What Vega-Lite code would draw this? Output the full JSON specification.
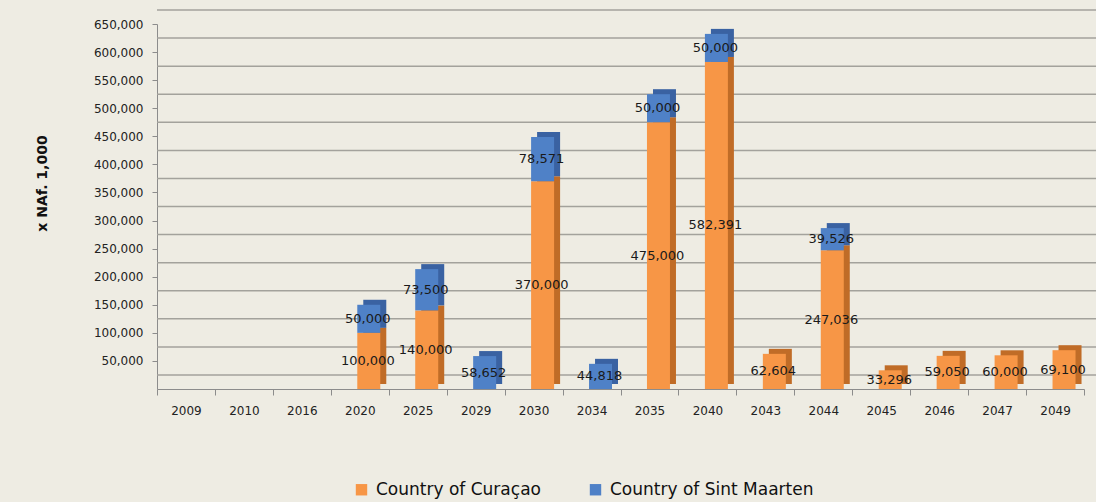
{
  "$schema": "https://vega.github.io/schema/vega-lite/v6.json",
  "autosize": {"type": "none"},
  "width": 927,
  "height": 365,
  "padding": {"left": 157, "top": 24, "right": 12, "bottom": 113},
  "background": "#EEECE3",
  "config": {
    "view": {"stroke": null},
    "font": "DejaVu Sans",
    "axisY": {"format": ",d", "labelOverlap": false, "grid": false}
  },
  "data": {
    "values": [
      {"year": "2020", "country": "Country of Curaçao", "value": 100000},
      {"year": "2025", "country": "Country of Curaçao", "value": 140000},
      {"year": "2030", "country": "Country of Curaçao", "value": 370000},
      {"year": "2035", "country": "Country of Curaçao", "value": 475000},
      {"year": "2040", "country": "Country of Curaçao", "value": 582391},
      {"year": "2043", "country": "Country of Curaçao", "value": 62604},
      {"year": "2044", "country": "Country of Curaçao", "value": 247036},
      {"year": "2045", "country": "Country of Curaçao", "value": 33296},
      {"year": "2046", "country": "Country of Curaçao", "value": 59050},
      {"year": "2047", "country": "Country of Curaçao", "value": 60000},
      {"year": "2049", "country": "Country of Curaçao", "value": 69100},
      {"year": "2020", "country": "Country of Sint Maarten", "value": 50000},
      {"year": "2025", "country": "Country of Sint Maarten", "value": 73500},
      {"year": "2029", "country": "Country of Sint Maarten", "value": 58652},
      {"year": "2030", "country": "Country of Sint Maarten", "value": 78571},
      {"year": "2034", "country": "Country of Sint Maarten", "value": 44818},
      {"year": "2035", "country": "Country of Sint Maarten", "value": 50000},
      {"year": "2040", "country": "Country of Sint Maarten", "value": 50000},
      {"year": "2044", "country": "Country of Sint Maarten", "value": 39526}
    ]
  },
  "layer": [
    {
      "data": {"values": [
        {"g": 0}, {"g": 50000}, {"g": 100000}, {"g": 150000}, {"g": 200000},
        {"g": 250000}, {"g": 300000}, {"g": 350000}, {"g": 400000}, {"g": 450000},
        {"g": 500000}, {"g": 550000}, {"g": 600000}, {"g": 650000}
      ]},
      "mark": {"type": "rule", "color": "#A3A29C", "strokeWidth": 1.5, "xOffset": 20, "yOffset": -14},
      "encoding": {
        "y": {
          "field": "g", "type": "quantitative",
          "scale": {"domain": [0, 650000], "nice": false},
          "axis": {"title": "x NAf. 1,000", "values": [50000,100000,150000,200000,250000,300000,350000,400000,450000,500000,550000,600000,650000], "format": ",d", "labelOverlap": false, "grid": false, "labelFontSize": 12, "labelColor": "#222", "tickSize": 5, "tickColor": "#8C8C8C", "domainColor": "#8C8C8C", "labelPadding": 9, "titleFontSize": 14, "titleFontWeight": "bold", "titleColor": "#111", "titleX": -115, "titleY": 159, "titleBaseline": "middle"}
        }
      }
    },
    {
      "mark": {"type": "bar", "size": 23, "xOffset": 15, "yOffset": -5},
      "encoding": {
        "x": {
          "field": "year", "type": "ordinal",
          "scale": {"domain": ["2009","2010","2016","2020","2025","2029","2030","2034","2035","2040","2043","2044","2045","2046","2047","2049"], "paddingInner": 0, "paddingOuter": 0},
          "axis": {"title": null, "labelAngle": 0, "labelFontSize": 12, "labelColor": "#222", "tickBand": "extent", "tickSize": 6, "tickColor": "#8C8C8C", "domainColor": "#8C8C8C", "labelPadding": 10, "labelAlign": "center"}
        },
        "y": {"field": "value", "type": "quantitative", "stack": "zero", "axis": {"title": "x NAf. 1,000", "values": [50000,100000,150000,200000,250000,300000,350000,400000,450000,500000,550000,600000,650000], "format": ",d", "labelOverlap": false, "grid": false, "labelFontSize": 12, "labelColor": "#222", "tickSize": 5, "tickColor": "#8C8C8C", "domainColor": "#8C8C8C", "labelPadding": 9, "titleFontSize": 14, "titleFontWeight": "bold", "titleColor": "#111", "titleX": -115, "titleY": 159, "titleBaseline": "middle"}},
        "order": {"field": "country", "sort": "ascending"},
        "color": {"field": "country", "type": "nominal", "scale": {"domain": ["Country of Curaçao", "Country of Sint Maarten"], "range": ["#C06C27", "#3A62A2"]}, "legend": null}
      }
    },
    {
      "layer": [
        {
          "mark": {"type": "bar", "size": 23, "xOffset": 9},
          "encoding": {
            "x": {"field": "year", "type": "ordinal"},
            "y": {"field": "value", "type": "quantitative", "stack": "zero", "axis": {"title": "x NAf. 1,000", "values": [50000,100000,150000,200000,250000,300000,350000,400000,450000,500000,550000,600000,650000], "format": ",d", "labelOverlap": false, "grid": false, "labelFontSize": 12, "labelColor": "#222", "tickSize": 5, "tickColor": "#8C8C8C", "domainColor": "#8C8C8C", "labelPadding": 9, "titleFontSize": 14, "titleFontWeight": "bold", "titleColor": "#111", "titleX": -115, "titleY": 159, "titleBaseline": "middle"}},
            "order": {"field": "country", "sort": "ascending"},
            "color": {
              "field": "country", "type": "nominal",
              "scale": {"domain": ["Country of Curaçao", "Country of Sint Maarten"], "range": ["#F79646", "#4F81C7"]},
              "legend": {"title": null, "orient": "none", "direction": "horizontal", "legendX": 196, "legendY": 457, "symbolType": "square", "symbolSize": 130, "symbolStrokeWidth": 0, "labelFontSize": 17, "labelColor": "#111", "labelOffset": 6, "labelLimit": 0, "columnPadding": 46, "padding": 0}
            }
          }
        },
        {
          "transform": [
            {"stack": "value", "groupby": ["year"], "sort": [{"field": "country", "order": "ascending"}], "as": ["v0", "v1"]},
            {"calculate": "(datum.v0 + datum.v1) / 2", "as": "mid"}
          ],
          "mark": {"type": "text", "fontSize": 13, "color": "#1A1A1A", "xOffset": 8},
          "encoding": {
            "x": {"field": "year", "type": "ordinal"},
            "y": {"field": "mid", "type": "quantitative", "axis": {"title": "x NAf. 1,000", "values": [50000,100000,150000,200000,250000,300000,350000,400000,450000,500000,550000,600000,650000], "format": ",d", "labelOverlap": false, "grid": false, "labelFontSize": 12, "labelColor": "#222", "tickSize": 5, "tickColor": "#8C8C8C", "domainColor": "#8C8C8C", "labelPadding": 9, "titleFontSize": 14, "titleFontWeight": "bold", "titleColor": "#111", "titleX": -115, "titleY": 159, "titleBaseline": "middle"}},
            "text": {"field": "value", "type": "quantitative", "format": ","}
          }
        }
      ]
    }
  ],
  "resolve": {"scale": {"color": "independent"}}
}
